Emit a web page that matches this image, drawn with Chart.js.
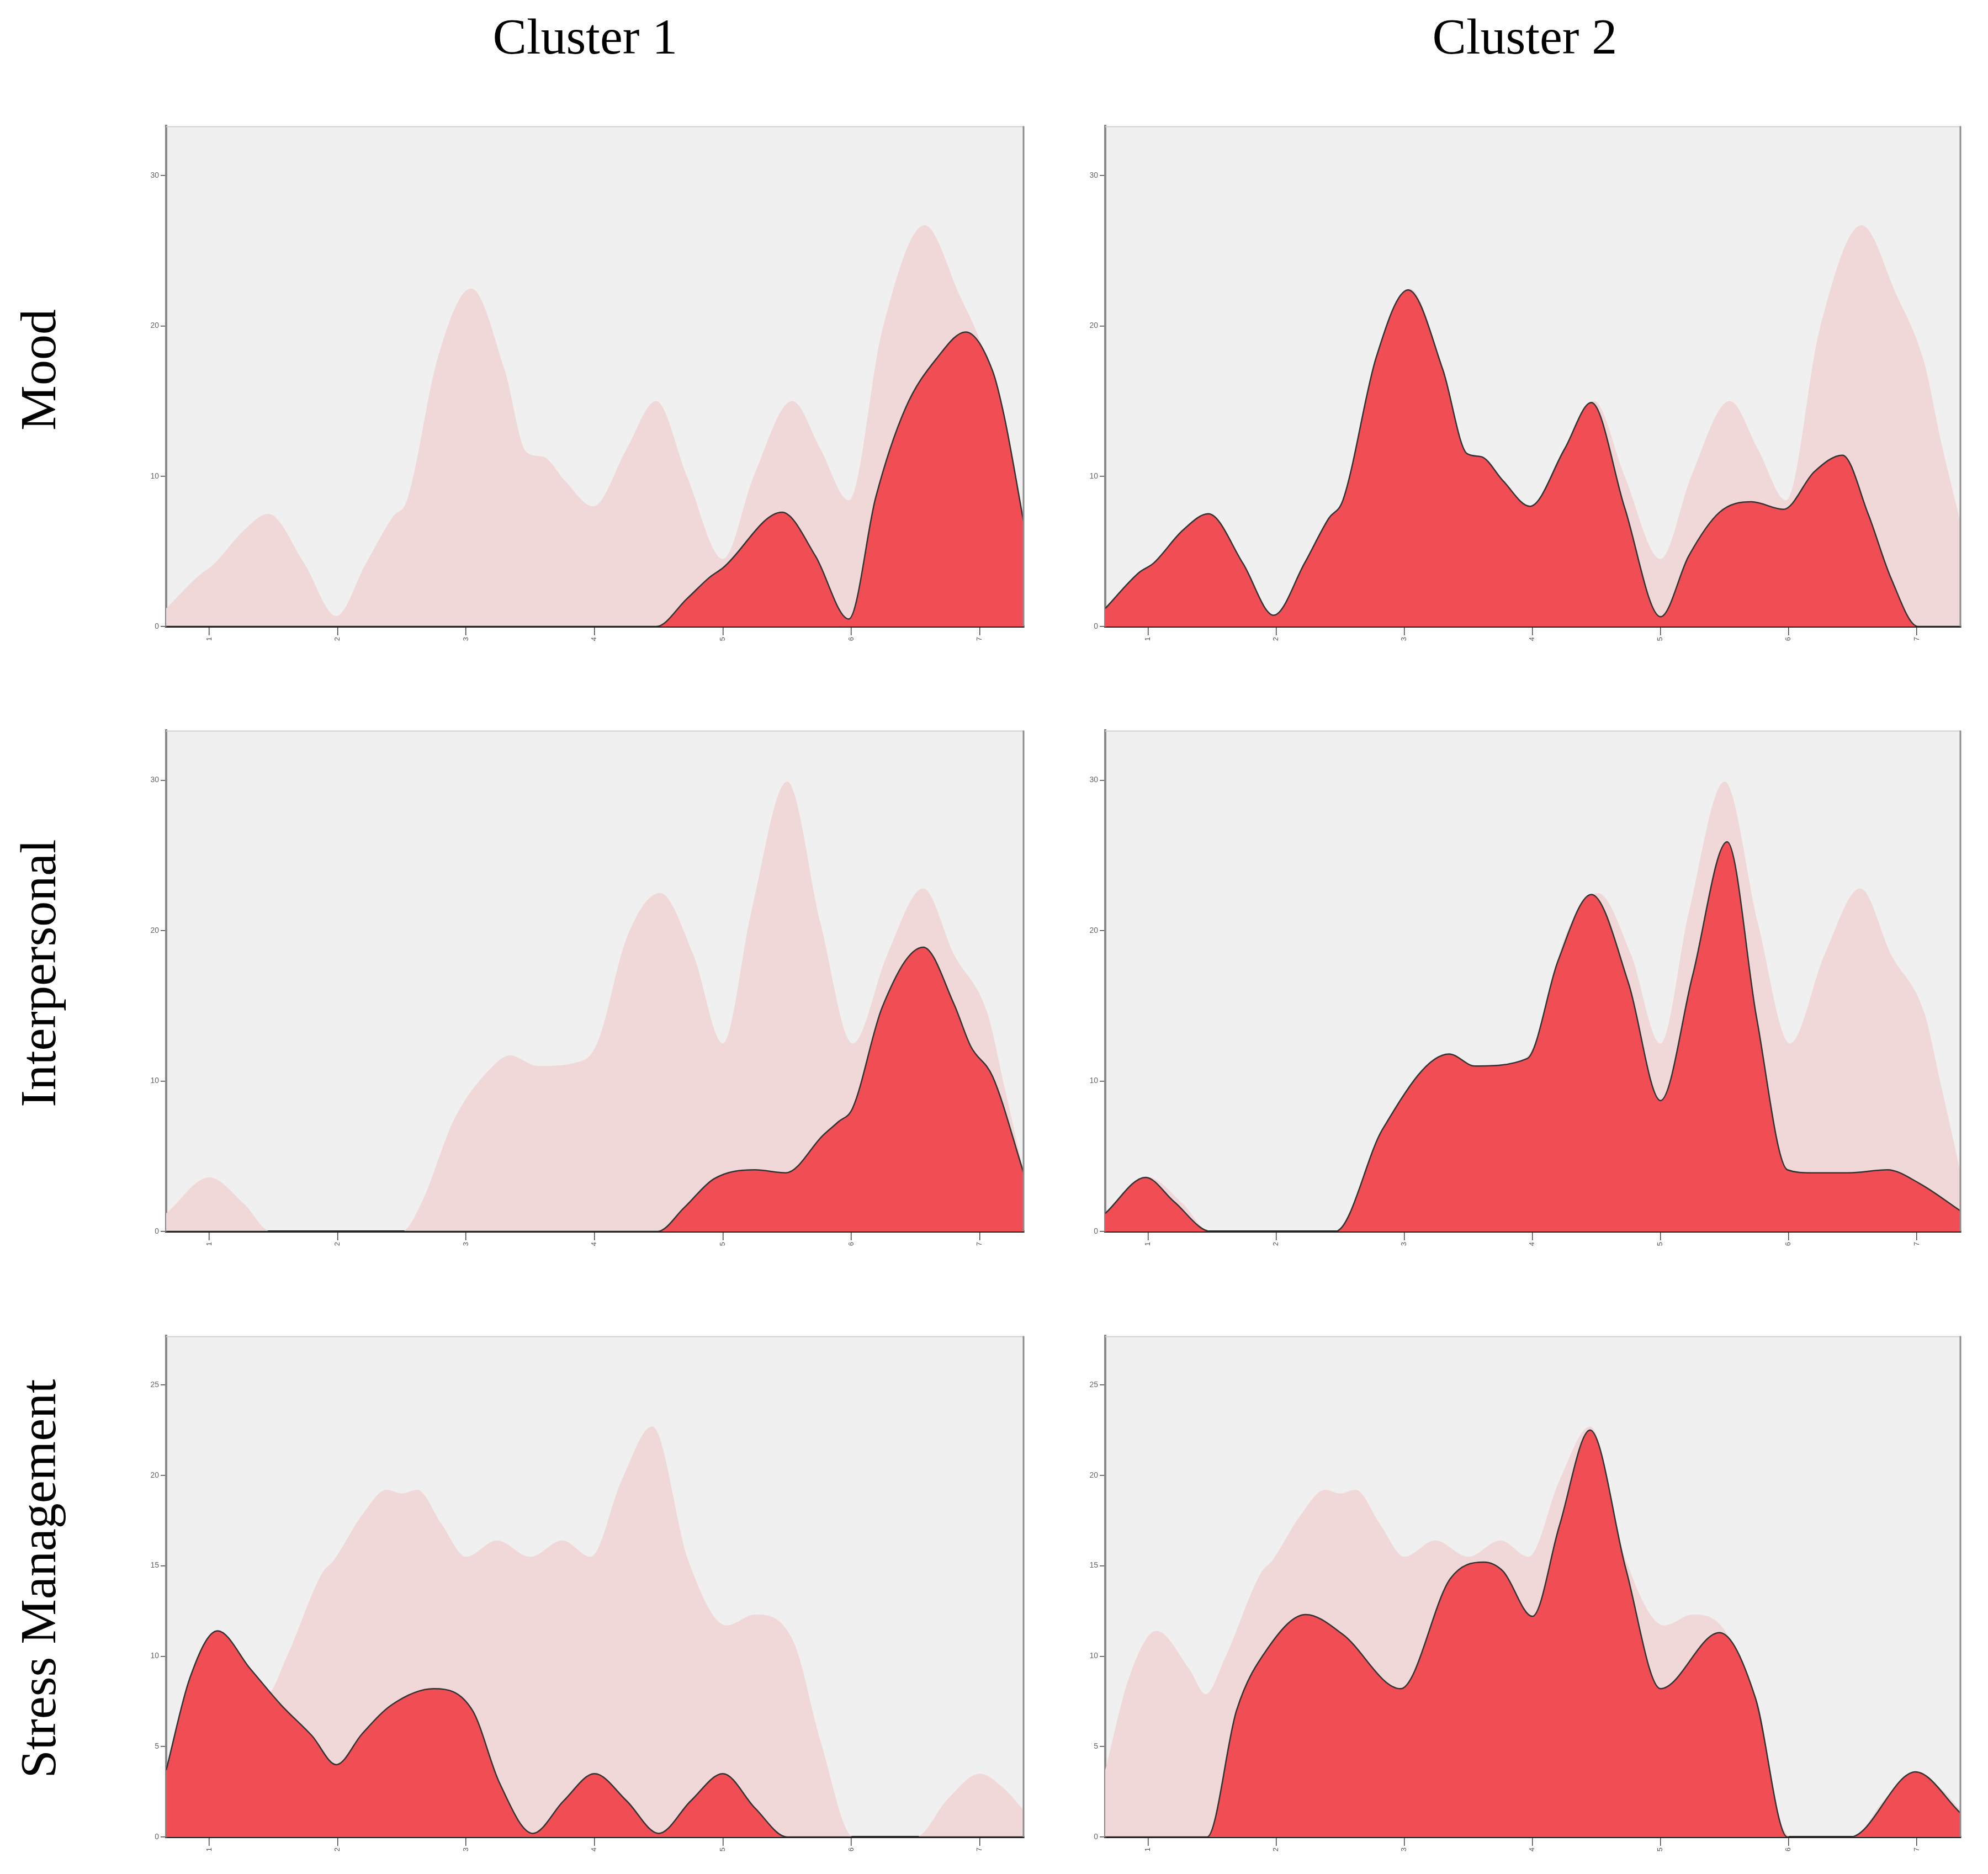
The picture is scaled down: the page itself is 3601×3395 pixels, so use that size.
<!DOCTYPE html>
<html><head><meta charset="utf-8">
<script src="https://cdn.jsdelivr.net/npm/chart.js@4.4.1/dist/chart.umd.min.js"></script>
<style>
html,body{margin:0;padding:0;background:#fff;}
body{width:3601px;height:3395px;position:relative;overflow:hidden;font-family:"Liberation Serif","DejaVu Serif",serif;}
.title{position:absolute;font-size:92px;line-height:92px;height:92px;white-space:nowrap;text-align:center;color:#000;}
.rot{transform:rotate(-90deg);transform-origin:50% 50%;}
canvas{position:absolute;}
</style></head><body>
<script>
// ---------- data ----------
const colTitles = ["Cluster 1", "Cluster 2"];
const rowTitles = ["Mood", "Interpersonal", "Stress Management"];
const xTicks = [1, 2, 3, 4, 5, 6, 7];
const yTicksMood = [0, 10, 20, 30];
const yTicksInter = [0, 10, 20, 30];
const yTicksStress = [0, 5, 10, 15, 20, 25];

// Mood
const moodAllX = [0.665, 0.92, 1.03, 1.27, 1.46, 1.74, 1.99, 2.22, 2.43, 2.54, 2.78, 3.04, 3.30, 3.47, 3.60, 3.77, 3.99, 4.25, 4.48, 4.72, 5.00, 5.24, 5.54, 5.76, 5.98, 6.24, 6.57, 6.84, 7.06, 7.19, 7.345];
const moodAllY = [1.2, 3.4, 4.1, 6.4, 7.5, 4.2, 0.7, 4.2, 7.3, 8.4, 17.9, 22.5, 17.1, 11.6, 11.3, 9.7, 8.0, 11.8, 15.0, 10.0, 4.5, 10.0, 15.0, 11.8, 8.4, 19.7, 26.7, 22.1, 17.5, 12.3, 6.8];
const moodC1X = [0.665, 4.48, 4.72, 4.90, 5.00, 5.46, 5.72, 5.98, 6.19, 6.42, 6.67, 6.89, 7.10, 7.19, 7.345];
const moodC1Y = [0, 0, 1.85, 3.3, 3.9, 7.6, 4.7, 0.5, 8.6, 14.5, 17.9, 19.6, 17.0, 14.0, 6.8];
const moodC2X = [0.665, 0.93, 1.04, 1.27, 1.47, 1.74, 1.98, 2.22, 2.41, 2.52, 2.78, 3.03, 3.30, 3.49, 3.60, 3.77, 3.98, 4.25, 4.46, 4.72, 5.00, 5.22, 5.46, 5.71, 5.96, 6.20, 6.42, 6.62, 6.80, 7.01, 7.345];
const moodC2Y = [1.2, 3.6, 4.2, 6.4, 7.5, 4.2, 0.75, 4.2, 7.2, 8.4, 17.9, 22.4, 17.1, 11.5, 11.3, 9.7, 8.0, 11.8, 14.9, 7.9, 0.65, 4.7, 7.6, 8.3, 7.8, 10.3, 11.4, 7.5, 3.2, 0, 0];

// Interpersonal
const interAllX = [0.665, 1.00, 1.27, 1.48, 2.50, 2.65, 2.91, 3.21, 3.34, 3.56, 3.92, 4.03, 4.25, 4.51, 4.77, 5.00, 5.22, 5.50, 5.76, 6.01, 6.28, 6.56, 6.80, 7.06, 7.19, 7.345];
const interAllY = [1.2, 3.6, 1.85, 0, 0, 1.85, 7.5, 11.0, 11.7, 11.0, 11.4, 12.7, 19.5, 22.5, 18.4, 12.5, 21.2, 29.9, 20.5, 12.5, 18.4, 22.8, 18.4, 14.5, 9.7, 3.8];
const interC1X = [0.665, 4.49, 4.70, 4.93, 5.25, 5.49, 5.78, 5.90, 6.01, 6.24, 6.56, 6.80, 6.93, 7.10, 7.345];
const interC1Y = [0, 0, 1.6, 3.5, 4.1, 3.9, 6.4, 7.3, 8.2, 14.9, 18.9, 15.1, 12.3, 10.3, 3.8];
const interC2X = [0.665, 0.98, 1.20, 1.49, 2.46, 2.83, 3.35, 3.55, 3.96, 4.20, 4.46, 4.75, 5.00, 5.25, 5.52, 5.75, 5.99, 6.18, 6.47, 6.77, 7.02, 7.345];
const interC2Y = [1.2, 3.6, 2.0, 0, 0, 6.8, 11.8, 11.0, 11.5, 18.0, 22.4, 16.5, 8.7, 17.0, 25.9, 14.2, 4.1, 3.9, 3.9, 4.1, 3.2, 1.35];

// Stress Management
const stressAllX = [0.665, 0.85, 1.065, 1.32, 1.45, 1.60, 1.88, 1.97, 2.19, 2.38, 2.50, 2.62, 2.81, 3.00, 3.24, 3.50, 3.75, 3.97, 4.21, 4.45, 4.73, 5.03, 5.25, 5.55, 5.76, 6.02, 6.50, 6.75, 7.00, 7.20, 7.345];
const stressAllY = [3.7, 8.8, 11.4, 9.3, 7.9, 9.9, 14.6, 15.3, 17.8, 19.2, 19.0, 19.2, 17.3, 15.5, 16.4, 15.5, 16.4, 15.5, 19.7, 22.7, 15.3, 11.7, 12.3, 10.8, 5.3, 0, 0, 2.1, 3.5, 2.6, 1.45];
const stressC1X = [0.665, 0.85, 1.065, 1.32, 1.56, 1.80, 1.99, 2.19, 2.42, 2.75, 3.05, 3.26, 3.52, 3.76, 4.00, 4.25, 4.50, 4.75, 5.00, 5.25, 5.50, 7.345];
const stressC1Y = [3.7, 8.8, 11.4, 9.3, 7.3, 5.6, 4.0, 5.7, 7.3, 8.2, 7.0, 3.0, 0.2, 2.0, 3.5, 2.0, 0.2, 2.0, 3.5, 1.6, 0, 0];
const stressC2X = [0.665, 1.46, 1.69, 1.94, 2.23, 2.52, 2.97, 3.36, 3.62, 3.77, 4.00, 4.21, 4.45, 4.73, 5.00, 5.46, 5.74, 5.99, 6.48, 6.99, 7.345];
const stressC2Y = [0, 0, 7.0, 10.5, 12.3, 11.2, 8.2, 14.3, 15.2, 14.7, 12.2, 17.2, 22.5, 14.8, 8.2, 11.3, 7.7, 0, 0, 3.6, 1.3];

// ---------- layout / style ----------
const X_MIN = 0.665, X_MAX = 7.345;
const cols = [{left: 301, right: 1855, title: 1060}, {left: 2002, right: 3552, title: 2762}];
const rows = [
  {top: 227, bottom: 1135, yMax: 33.3, ticks: yTicksMood, all: [moodAllX, moodAllY], c: [[moodC1X, moodC1Y], [moodC2X, moodC2Y]], labelY: 670},
  {top: 1322, bottom: 2231, yMax: 33.3, ticks: yTicksInter, all: [interAllX, interAllY], c: [[interC1X, interC1Y], [interC2X, interC2Y]], labelY: 1763},
  {top: 2419, bottom: 3328, yMax: 27.7, ticks: yTicksStress, all: [stressAllX, stressAllY], c: [[stressC1X, stressC1Y], [stressC2X, stressC2Y]], labelY: 2860}
];
const PADL = 90, PADT = 10, PADR = 12, PADB = 80;

function pts(xs, ys) { return xs.map((x, i) => ({x: x, y: ys[i]})); }

const bgPlugin = {
  id: 'bgFrame',
  beforeDraw(chart) {
    const a = chart.chartArea, ctx = chart.ctx;
    ctx.save();
    ctx.fillStyle = '#f0f0f0';
    ctx.fillRect(a.left, a.top, a.right - a.left, a.bottom - a.top);
    ctx.restore();
  },
  afterDraw(chart) {
    const a = chart.chartArea, ctx = chart.ctx;
    ctx.save();
    ctx.strokeStyle = '#d2d2d2'; ctx.lineWidth = 2;
    ctx.beginPath(); ctx.moveTo(a.left, a.top + 1); ctx.lineTo(a.right, a.top + 1); ctx.stroke();
    ctx.strokeStyle = '#8c8c8c'; ctx.lineWidth = 3;
    ctx.beginPath(); ctx.moveTo(a.right - 1, a.top); ctx.lineTo(a.right - 1, a.bottom); ctx.stroke();
    ctx.restore();
  }
};

// titles
colTitles.forEach((t, i) => {
  const d = document.createElement('div');
  d.className = 'title'; d.textContent = t;
  d.style.width = '600px'; d.style.left = (cols[i].title - 300) + 'px'; d.style.top = '20px';
  document.body.appendChild(d);
});
rowTitles.forEach((t, i) => {
  const d = document.createElement('div');
  d.className = 'title rot'; d.textContent = t;
  d.style.width = '900px'; d.style.left = (69 - 450) + 'px'; d.style.top = (rows[i].labelY - 46) + 'px';
  document.body.appendChild(d);
});

rows.forEach((r, ri) => {
  cols.forEach((c, ci) => {
    const cv = document.createElement('canvas');
    const w = c.right - c.left + PADL + PADR;
    const h = r.bottom - r.top + PADT + PADB;
    cv.width = w; cv.height = h;
    cv.style.left = (c.left - PADL) + 'px';
    cv.style.top = (r.top - PADT) + 'px';
    cv.style.width = w + 'px'; cv.style.height = h + 'px';
    document.body.appendChild(cv);
    const cl = r.c[ci];
    new Chart(cv.getContext('2d'), {
      type: 'line',
      data: {
        datasets: [
          {data: pts(cl[0], cl[1]), fill: 'origin', backgroundColor: '#f04d55', borderColor: '#333333', borderWidth: 2.5,
           cubicInterpolationMode: 'monotone', pointRadius: 0},
          {data: pts(r.all[0], r.all[1]), fill: 'origin', backgroundColor: '#f0d8d9', borderColor: 'rgba(0,0,0,0)', borderWidth: 0,
           cubicInterpolationMode: 'monotone', pointRadius: 0}
        ]
      },
      options: {
        responsive: false, animation: false, maintainAspectRatio: false,
        layout: {padding: {left: 0, top: PADT, right: PADR, bottom: 0}},
        plugins: {legend: {display: false}, tooltip: {enabled: false}},
        elements: {point: {radius: 0}},
        scales: {
          x: {
            type: 'linear', min: X_MIN, max: X_MAX,
            afterBuildTicks(s) { s.ticks = xTicks.map(v => ({value: v})); },
            afterFit(s) { s.height = PADB; },
            ticks: {font: {size: 13, family: 'Liberation Sans'}, color: '#555', minRotation: 90, maxRotation: 90, padding: 3, autoSkip: false},
            grid: {drawOnChartArea: false, drawTicks: true, tickLength: 16, color: '#444', lineWidth: 1.5},
            border: {display: true, color: '#1a1a1a', width: 4}
          },
          y: {
            min: 0, max: r.yMax,
            afterBuildTicks(s) { s.ticks = r.ticks.map(v => ({value: v})); },
            afterFit(s) { s.width = PADL; },
            ticks: {font: {size: 14, family: 'Liberation Sans'}, color: '#666', padding: 3, autoSkip: false},
            grid: {drawOnChartArea: false, drawTicks: true, tickLength: 10, color: '#444', lineWidth: 1.5},
            border: {display: true, color: '#888', width: 4}
          }
        }
      },
      plugins: [bgPlugin]
    });
  });
});
</script>
</body></html>
